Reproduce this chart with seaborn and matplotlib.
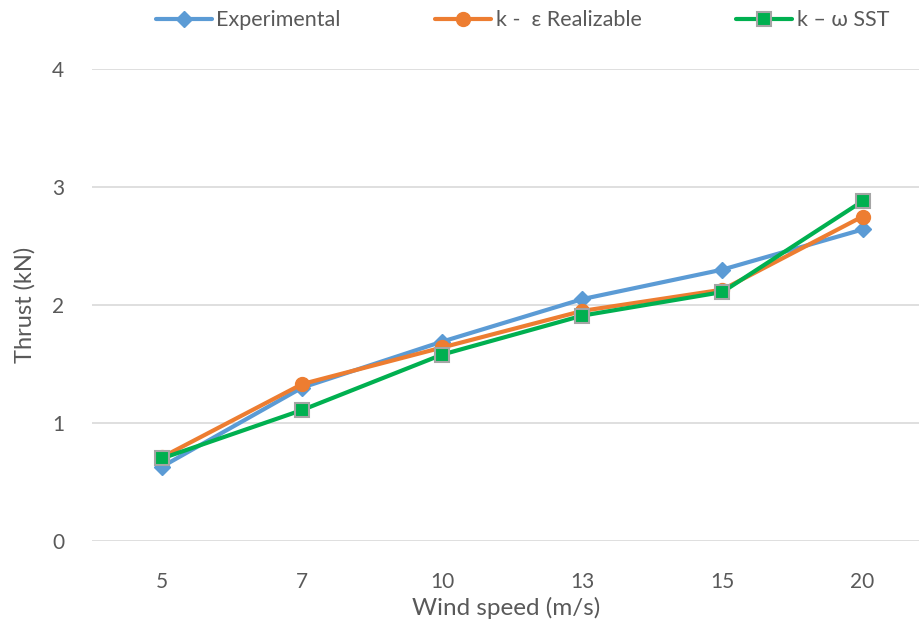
import matplotlib
matplotlib.use("Agg")
import matplotlib.pyplot as plt
import seaborn as sns
import pandas as pd

wind_speed = ["5", "7", "10", "13", "15", "20"]
experimental = [0.63, 1.30, 1.69, 2.05, 2.30, 2.64]
k_eps = [0.71, 1.33, 1.64, 1.95, 2.13, 2.75]
k_omega = [0.70, 1.11, 1.58, 1.91, 2.11, 2.88]
series_names = ["Experimental", "k -  ε Realizable", "k – ω SST"]

sns.set_theme(style="white")
plt.rcParams['font.family'] = ['Lato', 'DejaVu Sans']

fig = plt.figure(figsize=(9.2, 6.28), dpi=100)
ax = fig.add_axes([92/920, (628-541)/628, (920-92)/920, 472/628])

styles = [
    (experimental, "#5B9BD5", "D", 8, "#5B9BD5", 1.0),
    (k_eps, "#ED7D31", "o", 10, "#ED7D31", 1.0),
    (k_omega, "#00B050", "s", 9.5, "#A5A5A5", 1.5),
]
for name, (vals, col, mk, ms, ec, mew) in zip(series_names, styles):
    df = pd.DataFrame({"Wind speed": wind_speed, "Thrust": vals})
    sns.lineplot(data=df, x="Wind speed", y="Thrust", sort=False, ax=ax,
                 color=col, linewidth=3, marker=mk, markersize=ms,
                 markeredgecolor=ec, markeredgewidth=mew, label=name)

ax.set_xlim(-0.5, 5.41)
ax.set_ylim(0, 4)
ax.set_yticks([0, 1, 2, 3, 4])
ax.grid(axis="y", color="#D9D9D9", linewidth=1.2)
ax.grid(axis="x", visible=False)
for s in ax.spines.values():
    s.set_visible(False)
ax.tick_params(axis="both", length=0, labelsize=15, labelcolor="#595959")
ax.tick_params(axis="y", pad=20)
ax.tick_params(axis="x", pad=22)
ax.set_xlabel("Wind speed (m/s)", fontsize=17.5, color="#595959", labelpad=4)
ax.set_ylabel("Thrust (kN)", fontsize=17, color="#595959", labelpad=12)

leg = ax.legend(loc="center", bbox_to_anchor=(0.52, 1.103), ncol=3, frameon=False,
                fontsize=15.5, handlelength=2.6, handletextpad=0.2,
                columnspacing=4.4, labelcolor="#595959")

fig.savefig("out.png", dpi=100)
